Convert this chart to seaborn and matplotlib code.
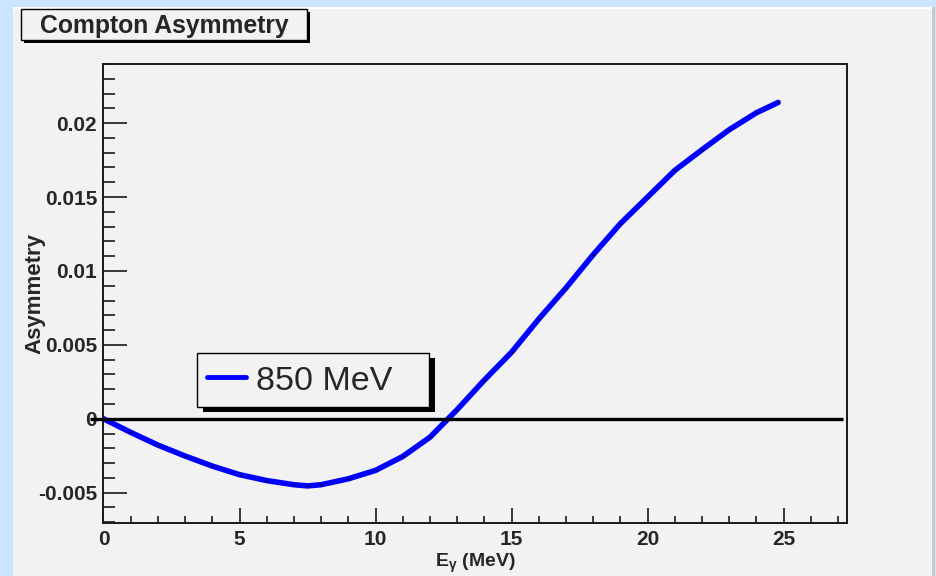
import matplotlib
matplotlib.use("Agg")
import matplotlib.pyplot as plt
import seaborn as sns
import pandas as pd
from matplotlib.patches import Rectangle
from matplotlib.transforms import IdentityTransform
from matplotlib.ticker import MultipleLocator

# ---------------- data ----------------
energy_mev = [0, 1, 2, 3, 4, 5, 6, 7, 7.5, 8, 9, 10, 11, 12, 13, 14, 15,
              16, 17, 18, 19, 20, 21, 22, 23, 24, 24.8]
asymmetry = [0.0, -0.00092, -0.00178, -0.00252, -0.00320, -0.00378, -0.00418,
             -0.00446, -0.00454, -0.00446, -0.00406, -0.00349, -0.00255,
             -0.00125, 0.00062, 0.00262, 0.00450, 0.00675, 0.00885, 0.01110,
             0.01320, 0.01500, 0.01680, 0.01820, 0.01955, 0.02070, 0.02140]
series_label = "850 MeV"
title_text = "Compton Asymmetry"
x_label = r"E$_{\gamma}$ (MeV)"
y_label = "Asymmetry"
x_major_ticks = [0, 5, 10, 15, 20, 25]
x_tick_labels = ["0", "5", "10", "15", "20", "25"]
y_major_ticks = [-0.005, 0, 0.005, 0.01, 0.015, 0.02]
y_tick_labels = ["-0.005", "0", "0.005", "0.01", "0.015", "0.02"]
x_limits = (0, 27.32)
y_limits = (-0.00705, 0.0240)

df = pd.DataFrame({"E": energy_mev, "A": asymmetry})

# ---------------- style ----------------
W, H = 937, 576
sns.set_theme(style="ticks")
plt.rcParams["font.family"] = ["Liberation Sans", "DejaVu Sans"]
plt.rcParams["axes.unicode_minus"] = False
plt.rcParams["mathtext.fontset"] = "custom"
plt.rcParams["mathtext.rm"] = "Liberation Sans:bold"
plt.rcParams["mathtext.it"] = "Liberation Sans:bold"
plt.rcParams["mathtext.bf"] = "Liberation Sans:bold"

CANVAS = "#f2f2f2"
OUTER = "#cce5ff"

fig = plt.figure(figsize=(W / 100, H / 100), dpi=100)
fig.patch.set_facecolor(OUTER)


def px_rect(x0, y0, x1, y1, **kw):
    return Rectangle((x0 / W, 1 - y1 / H), (x1 - x0) / W, (y1 - y0) / H,
                     transform=fig.transFigure, **kw)


# canvas
fig.add_artist(px_rect(13, 7, 935, 576, facecolor=CANVAS, edgecolor="none", zorder=-10))
fig.add_artist(px_rect(13, 7, 935, 9, facecolor="white", edgecolor="none", zorder=-9))
fig.add_artist(px_rect(932, 7, 935, 576, facecolor="#c8c8c8", edgecolor="none", zorder=-9))

# title box
fig.add_artist(px_rect(24, 12, 310, 43, facecolor="black", edgecolor="none", zorder=1))
fig.add_artist(px_rect(21, 9, 307, 40, facecolor=CANVAS, edgecolor="black", lw=1.0, zorder=2))
fig.text(164 / W, 1 - 26.5 / H, title_text, ha="center", va="center",
         fontsize=17.8, fontweight="bold", zorder=3)

# axes
ax = fig.add_axes([103.5 / W, 1 - 523 / H, (846.7 - 103.5) / W, (523 - 64) / H])
ax.set_facecolor("none")

sns.lineplot(data=df, x="E", y="A", ax=ax, color="#0000ff", lw=4.0,
             label=series_label, zorder=2)
sns.scatterplot(data=df, x="E", y="A", ax=ax, color="black", s=2,
                linewidth=0, zorder=2.5, legend=False)

ax.set_xlim(*x_limits)
ax.set_ylim(*y_limits)

# zero line (extends slightly left of the frame, like the reference)
ax.hlines(0, x_limits[0] - 0.5, x_limits[1] - 0.12, colors="black", lw=2.4,
          clip_on=False, zorder=3)

# ticks
ax.set_xticks(x_major_ticks, labels=x_tick_labels, fontsize=15, fontweight="bold")
ax.set_yticks(y_major_ticks, labels=y_tick_labels, fontsize=15, fontweight="bold")
ax.xaxis.set_minor_locator(MultipleLocator(1))
ax.yaxis.set_minor_locator(MultipleLocator(0.001))
ax.tick_params(which="both", direction="in", top=False, right=False,
               color="#1a1a1a", width=1.2)
ax.tick_params(axis="x", which="major", length=10.5, pad=5.0)
ax.tick_params(axis="x", which="minor", length=5)
ax.tick_params(axis="y", which="major", length=17, pad=4.5)
ax.tick_params(axis="y", which="minor", length=8.5)
for s in ax.spines.values():
    s.set_linewidth(1.4)
    s.set_color("#1a1a1a")

ax.set_xlabel(x_label, fontsize=14, fontweight="bold")
ax.set_ylabel(y_label, fontsize=16, fontweight="bold")
ax.xaxis.set_label_coords(0.5, -0.063)
ax.yaxis.set_label_coords(-0.078, 0.5)

# legend
leg = ax.legend(loc="center", mode="expand",
                bbox_to_anchor=(197 / W, 1 - 408 / H, 232 / W, 56 / H),
                bbox_transform=fig.transFigure, frameon=True, fancybox=False,
                edgecolor="black", facecolor=CANVAS, framealpha=1,
                prop={"size": 24.5}, handlelength=1.15, handletextpad=0.3,
                handleheight=1.1, borderpad=0.28, borderaxespad=0)
leg.get_frame().set_linewidth(1.0)
leg.set_zorder(6)
for ln in leg.get_lines():
    ln.set_linewidth(3.5)

fig.canvas.draw()
bb = leg.get_frame().get_window_extent()
ax.add_artist(Rectangle((bb.x0 + 6, bb.y0 - 5), bb.width, bb.height,
                        transform=IdentityTransform(), facecolor="black",
                        edgecolor="none", zorder=5.5, clip_on=False))

fig.savefig("out.png", dpi=100, facecolor=fig.get_facecolor())
